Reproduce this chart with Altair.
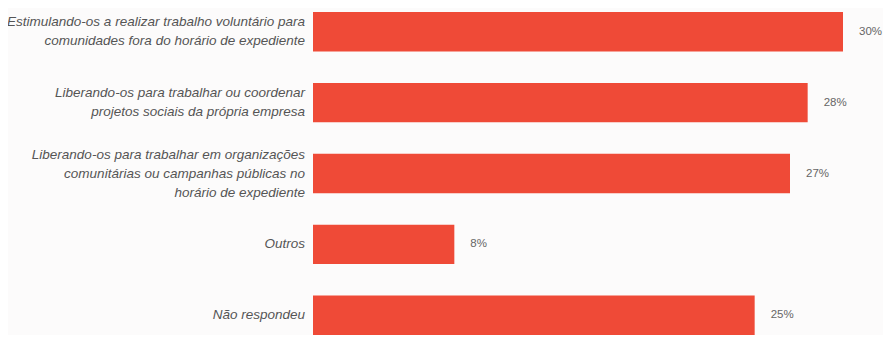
import altair as alt
import pandas as pd

categories = [
    "Estimulando-os a realizar trabalho voluntário para\ncomunidades fora do horário de expediente",
    "Liberando-os para trabalhar ou coordenar\nprojetos sociais da própria empresa",
    "Liberando-os para trabalhar em organizações\ncomunitárias ou campanhas públicas no\nhorário de expediente",
    "Outros",
    "Não respondeu",
]
values = [30, 28, 27, 8, 25]
value_labels = ["30%", "28%", "27%", "8%", "25%"]

df = pd.DataFrame({"cat": categories, "val": values, "lab": value_labels})
df["nlines"] = [c.count("\n") + 1 for c in categories]

y = alt.Y("cat:N", sort=categories, axis=None,
          scale=alt.Scale(paddingInner=0.444, paddingOuter=0))
x = alt.X("val:Q", axis=None, scale=alt.Scale(domain=[0, 30], nice=False, zero=True))

base = alt.Chart(df)

bars = base.mark_bar(color="#ef4a37", cornerRadius=0).encode(x=x, y=y)

vals = base.mark_text(align="left", baseline="middle", dx=16, fontSize=11.5,
                      font="Liberation Sans", color="#666666").encode(x=x, y=y, text="lab:N")

LH = 19
cat_layers = []
for n in [1, 2, 3]:
    cat_layers.append(
        base.transform_filter(alt.datum.nlines == n).mark_text(
            align="right", baseline="middle", fontSize=13.5, fontStyle="italic",
            font="Liberation Sans", color="#555555", lineBreak="\n",
            lineHeight=LH, dy=-(n - 1) * LH / 2,
        ).encode(x=alt.value(-8), y=y, text="cat:N")
    )

chart = alt.layer(bars, vals, *cat_layers).properties(
    width=530, height=323, background="#fcfbfb",
    padding={"left": 305, "top": 4, "right": 40, "bottom": 0},
    autosize=alt.AutoSizeParams(type="none"),
).configure_view(stroke=None)

chart.save("out.html", embed_options={"renderer": "svg", "actions": False})
